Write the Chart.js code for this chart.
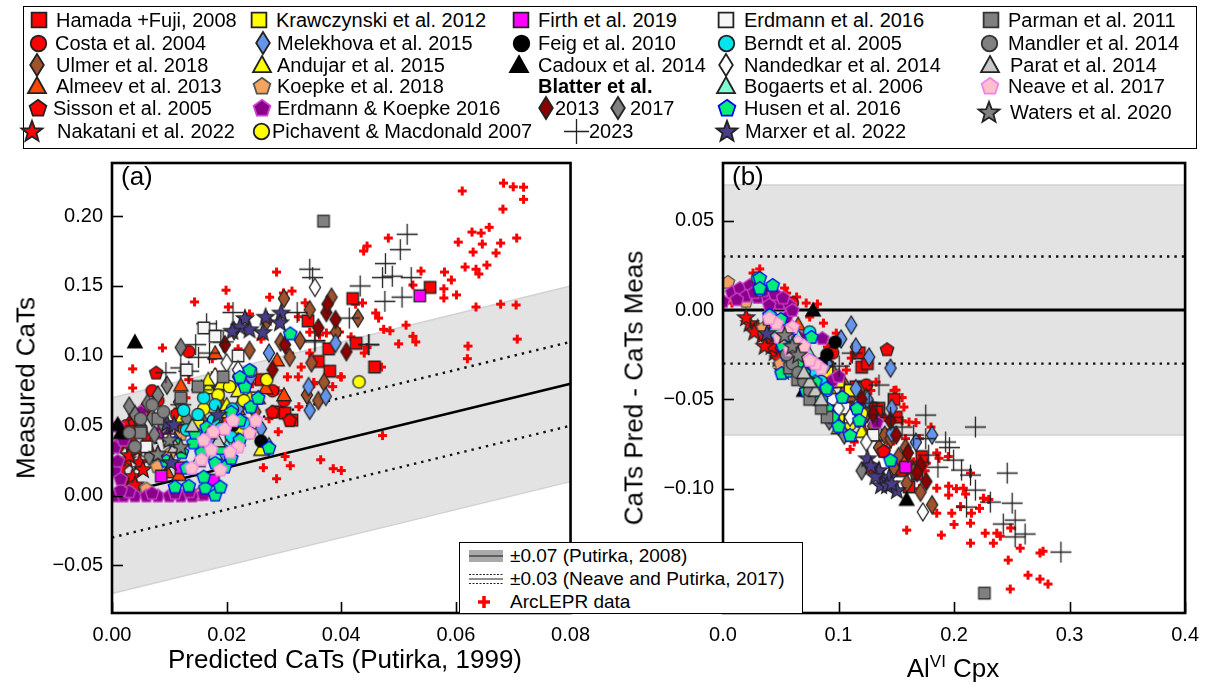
<!DOCTYPE html>
<html lang="en">
<head>
<meta charset="utf-8">
<title>CaTs comparison</title>
<script src="https://cdn.jsdelivr.net/npm/chart.js@4.4.0/dist/chart.umd.min.js"></script>
<style>
  body { margin: 0; background: #fff; font-family: "Liberation Sans", Arial, sans-serif; color: #000; }
  #wrap { position: relative; width: 1209px; height: 691px; overflow: hidden; }
  canvas.chart { position: absolute; }
  #legend { position: absolute; left: 23px; top: 6px; width: 1172px; height: 141px; border: 1.5px solid #000; }
  .lg-img { position: absolute; }
  .lg-txt { position: absolute; font-size: 20px; line-height: 22px; white-space: nowrap; }
  .axt { position: absolute; font-size: 26px; white-space: nowrap; transform: translate(-50%, -50%); }
  .rot { transform: translate(-50%, -50%) rotate(-90deg); }
  .panel { position: absolute; font-size: 26px; }
  #small { position: absolute; left: 459px; top: 542px; width: 342px; height: 70px; border: 1.2px solid #000; background: #fff; z-index: 5; }
  #small .t { position: absolute; left: 50px; font-size: 19px; line-height: 22px; white-space: nowrap; }
</style>
</head>
<body>
<div id="wrap">
  <div id="legend"></div>
  <canvas id="chartA" class="chart" width="600" height="536" style="left:0;top:155px"></canvas>
  <canvas id="chartB" class="chart" width="589" height="536" style="left:620px;top:155px"></canvas>
  <div class="panel" style="left:121px;top:161px">(a)</div>
  <div class="panel" style="left:732px;top:161px">(b)</div>
  <div class="axt rot" style="left:26px;top:388px">Measured CaTs</div>
  <div class="axt rot" style="left:634px;top:388px">CaTs Pred - CaTs Meas</div>
  <div class="axt" style="left:345px;top:659px">Predicted CaTs (Putirka, 1999)</div>
  <div class="axt" style="left:953px;top:668px">Al<sup style="font-size:17px">VI</sup> Cpx</div>
  <div id="small">
    <canvas id="h1" width="40" height="20" style="position:absolute;left:7px;top:3px"></canvas>
    <div class="t" style="top:2px">±0.07 (Putirka, 2008)</div>
    <canvas id="h2" width="40" height="20" style="position:absolute;left:7px;top:26px"></canvas>
    <div class="t" style="top:25px">±0.03 (Neave and Putirka, 2017)</div>
    <canvas id="h3" width="40" height="20" style="position:absolute;left:7px;top:49px"></canvas>
    <div class="t" style="top:48px">ArcLEPR data</div>
  </div>
</div>
<script>
// ---- data: [predicted CaTs, measured CaTs] for (a), [AlVI, pred - meas] for (b)
const arclA = [[0.0611,0.218],[0.0683,0.2236],[0.070,0.221],[0.0718,0.2207],[0.0718,0.212],[0.0682,0.205],[0.0628,0.1886],[0.0644,0.1879],[0.0658,0.192],[0.0604,0.1814],[0.0706,0.1843],[0.063,0.1743],[0.0646,0.18],[0.0678,0.1807],[0.067,0.1736],[0.0616,0.1636],[0.0635,0.162],[0.064,0.1586],[0.0654,0.165],[0.0592,0.1543],[0.0579,0.148],[0.0579,0.1414],[0.0601,0.1436],[0.0539,0.1607],[0.0525,0.1507],[0.0482,0.1843],[0.0445,0.1786],[0.0439,0.175],[0.0635,0.135],[0.0678,0.137],[0.0705,0.1364],[0.0513,0.122],[0.05,0.1086],[0.053,0.11],[0.0621,0.107],[0.062,0.098],[0.0707,0.112],[0.046,0.1307],[0.0465,0.127],[0.0474,0.119],[0.0485,0.118],[0.0437,0.1379],[0.0425,0.137],[0.047,0.092],[0.0399,0.085],[0.0445,0.106],[0.044,0.102],[0.0345,0.102],[0.0352,0.081],[0.0417,0.1136],[0.0397,0.1171],[0.0374,0.1164],[0.0337,0.138],[0.0287,0.16],[0.0199,0.147],[0.0144,0.1386],[0.0275,0.142],[0.0299,0.145],[0.0314,0.1464],[0.0203,0.135],[0.0088,0.1057],[0.0036,0.0907],[0.0036,0.077],[0.0345,0.117],[0.0362,0.115],[0.031,0.102],[0.0306,0.085],[0.0325,0.085],[0.04,0.085],[0.0385,0.078],[0.0134,0.083],[0.0155,0.075],[0.0245,0.08],[0.029,0.075],[0.0472,0.043],[0.0302,0.028],[0.0311,0.0214],[0.0264,0.02],[0.0287,0.0121],[0.0364,0.0257],[0.0386,0.0193],[0.04,0.018],[0.029,0.0457],[0.0237,0.0457],[0.0274,0.055],[0.0129,0.07],[0.0326,0.0636],[0.0352,0.08],[0.0163,0.0007],[0.0175,0.098],[0.022,0.105],[0.026,0.112],[0.011,0.06],[0.006,0.04],[0.018,0.088],[0.033,0.092],[0.0525,0.114],[0.058,0.16],[0.024,0.13],[0.0325,0.128]];
const arclB = [[0.0318,0.023],[0.026,0.0207],[0.0533,0.0123],[0.055,0.0095],[0.0637,0.0073],[0.072,0.0039],[0.0817,0.0034],[0.075,-0.0039],[0.0869,-0.0073],[0.098,-0.0129],[0.0903,-0.0207],[0.1136,-0.0235],[0.111,-0.0269],[0.1067,-0.0336],[0.1325,-0.0403],[0.1497,-0.0448],[0.128,-0.045],[0.0077,0.0039],[0.1566,-0.0543],[0.161,-0.0627],[0.167,-0.063],[0.155,-0.062],[0.18,-0.0655],[0.1136,-0.0739],[0.11,-0.078],[0.158,-0.072],[0.17,-0.072],[0.185,-0.08],[0.187,-0.083],[0.195,-0.082],[0.176,-0.0857],[0.185,-0.0997],[0.1953,-0.1036],[0.1953,-0.0986],[0.202,-0.1],[0.2142,-0.0913],[0.208,-0.0997],[0.21,-0.103],[0.2056,-0.11],[0.185,-0.1137],[0.198,-0.1137],[0.215,-0.1137],[0.222,-0.111],[0.2254,-0.1053],[0.23,-0.106],[0.2142,-0.1193],[0.159,-0.1232],[0.189,-0.126],[0.2142,-0.1305],[0.227,-0.1249],[0.234,-0.1305],[0.237,-0.1249],[0.24,-0.1266],[0.249,-0.122],[0.2572,-0.1333],[0.2469,-0.14],[0.2744,-0.136],[0.277,-0.135],[0.264,-0.1484],[0.2744,-0.1506],[0.2813,-0.1534],[0.2486,-0.1562],[0.148,-0.045],[0.155,-0.049],[0.14,-0.06],[0.12,-0.055],[0.1,-0.04],[0.09,-0.035],[0.065,-0.01],[0.045,0.005],[0.06,0.0],[0.13,-0.07],[0.145,-0.075],[0.165,-0.085],[0.175,-0.09],[0.138,-0.08],[0.16,-0.09],[0.17,-0.1],[0.2,-0.12],[0.12,-0.065]];

const hamadaA = [[0.0555,0.149],[0.042,0.141],[0.0342,0.125],[0.0426,0.109],[0.0378,0.105],[0.036,0.096],[0.038,0.089],[0.0458,0.092],[0.0288,0.06],[0.0302,0.059],[0.0314,0.054],[0.0185,0.074],[0.026,0.083],[0.023,0.066]];
const hamadaB = [[0.168,-0.092],[0.161,-0.099],[0.155,-0.09],[0.172,-0.082],[0.142,-0.07],[0.15,-0.06],[0.135,-0.055],[0.148,-0.05],[0.12,-0.032],[0.125,-0.03],[0.118,-0.024],[0.128,-0.055],[0.133,-0.057],[0.115,-0.043]];
const costaA = [[0.0134,0.103],[0.007,0.075],[0.0036,0.053],[0.006,0.063],[0.0113,0.058],[0.002,0.045],[0.003,0.04],[0.004,0.058],[0.0025,0.05],[0.008,0.068],[0.001,0.035],[0.005,0.048],[0.028,0.075],[0.03,0.068]];
const costaB = [[0.095,-0.024],[0.0645,-0.032],[0.06,0.004],[0.124,-0.042],[0.109,-0.056],[0.139,-0.079],[0.128,-0.088],[0.085,-0.045],[0.078,-0.038],[0.09,-0.05],[0.072,-0.03],[0.1,-0.058],[0.115,-0.06],[0.068,-0.036]];
const ulmerA = [[0.03,0.141],[0.0383,0.142],[0.0345,0.133],[0.0429,0.127],[0.0391,0.117],[0.0328,0.111],[0.0294,0.11],[0.0213,0.118],[0.0348,0.095],[0.037,0.081],[0.031,0.099],[0.034,0.072],[0.036,0.068],[0.025,0.06],[0.019,0.065],[0.016,0.052],[0.022,0.085],[0.027,0.125],[0.024,0.104]];
const ulmerB = [[0.181,-0.109],[0.171,-0.102],[0.159,-0.097],[0.148,-0.088],[0.135,-0.077],[0.158,-0.077],[0.125,-0.058],[0.118,-0.045],[0.14,-0.07],[0.11,-0.05],[0.13,-0.065],[0.105,-0.042],[0.152,-0.082],[0.145,-0.072],[0.1,-0.038],[0.095,-0.035],[0.122,-0.06],[0.165,-0.09],[0.112,-0.056]];
const almeevA = [[0.018,0.102],[0.012,0.079],[0.0288,0.097],[0.0268,0.077],[0.03,0.072],[0.0255,0.07],[0.0096,0.017],[0.0117,0.015],[0.015,0.04],[0.02,0.055],[0.022,0.062],[0.008,0.03]];
const almeevB = [[0.159,-0.083],[0.124,-0.048],[0.121,-0.067],[0.11,-0.055],[0.098,-0.06],[0.13,-0.07],[0.105,-0.045],[0.09,-0.04],[0.06,-0.01],[0.065,-0.008],[0.085,-0.03],[0.115,-0.062]];
const sissonA = [[0.0077,0.088],[0.031,0.054],[0.028,0.06],[0.006,0.06],[0.004,0.052],[0.012,0.047],[0.02,0.048]];
const sissonB = [[0.142,-0.022],[0.139,-0.079],[0.095,-0.04],[0.08,-0.045],[0.07,-0.03],[0.085,-0.05],[0.09,-0.03]];
const nakataniA = [[0.0026,0.026],[0.0048,0.024],[0.002,0.011],[0.0036,0.014],[0.0054,0.019],[0.003,0.029],[0.006,0.042],[0.0043,0.034],[0.0015,0.02],[0.004,0.008],[0.007,0.03],[0.002,0.038]];
const nakataniB = [[0.023,-0.0073],[0.03,-0.01],[0.039,-0.017],[0.0447,-0.0235],[0.0507,-0.031],[0.034,-0.014],[0.042,-0.02],[0.027,-0.012],[0.048,-0.027],[0.02,-0.004],[0.036,-0.02],[0.052,-0.034]];
const krawA = [[0.015,0.05],[0.02,0.06],[0.025,0.07]];
const krawB = [[0.09,-0.035],[0.1,-0.04],[0.11,-0.045]];
const melekA = [[0.0343,0.078],[0.0345,0.061],[0.0373,0.071],[0.026,0.048],[0.0274,0.035],[0.019,0.028],[0.0208,0.046],[0.0274,0.102],[0.0242,0.085],[0.039,0.109],[0.022,0.062],[0.017,0.04]];
const melekB = [[0.111,-0.0084],[0.1023,-0.0162],[0.115,-0.0207],[0.1265,-0.0263],[0.145,-0.0325],[0.146,-0.055],[0.181,-0.07],[0.167,-0.074],[0.146,-0.069],[0.115,-0.044],[0.09,-0.03],[0.125,-0.05]];
const andujarA = [[0.026,0.033],[0.0168,0.077],[0.0168,0.083],[0.019,0.08],[0.022,0.075],[0.024,0.07],[0.02,0.065],[0.012,0.055]];
const andujarB = [[0.1,-0.066],[0.105,-0.062],[0.095,-0.055],[0.11,-0.07],[0.09,-0.05],[0.085,-0.045],[0.12,-0.068],[0.075,-0.04]];
const koepkeA = [[0.0151,0.001],[0.0079,0.021],[0.012,0.044],[0.01,0.03],[0.006,0.005]];
const koepkeB = [[0.0043,0.0157],[0.035,-0.01],[0.06,-0.02],[0.05,-0.03],[0.02,0.005]];
const erdKoA = [[0.0005,0.0],[0.002,0.0],[0.004,0.0],[0.006,0.0],[0.008,0.0],[0.01,0.0],[0.012,0.0],[0.014,0.0],[0.003,0.003],[0.007,0.002],[0.011,0.002],[0.0015,0.004],[0.0005,0.018],[0.001,0.025],[0.0005,0.035],[0.002,0.04],[0.0015,0.012],[0.005,0.06],[0.008,0.045],[0.001,0.05],[0.0135,0.003],[0.016,0.001],[0.0094,0.045]];
const erdKoB = [[0.0077,0.01],[0.0146,0.0123],[0.0232,0.014],[0.03,0.0073],[0.039,0.0067],[0.049,0.0039],[0.0576,0.0028],[0.0662,-0.0151],[0.086,-0.0157],[0.0688,-0.0196],[0.0946,-0.0392],[0.1,-0.037],[0.055,-0.0039],[0.133,-0.0627],[0.02,0.008],[0.035,0.011],[0.045,0.009],[0.027,0.01],[0.012,0.006],[0.04,0.003],[0.06,0.0],[0.052,0.007],[0.0,0.005]];
const pichA = [[0.0431,0.0814],[0.0223,0.047],[0.0242,0.089],[0.027,0.083],[0.0185,0.072],[0.0205,0.078],[0.023,0.068],[0.016,0.062]];
const pichB = [[0.1,-0.06],[0.105,-0.068],[0.095,-0.05],[0.12,-0.058],[0.085,-0.042],[0.092,-0.047],[0.11,-0.064],[0.08,-0.04]];
const firthA = [[0.0537,0.143],[0.0086,0.014],[0.0177,0.011],[0.012,0.02]];
const firthB = [[0.158,-0.088],[0.04,-0.005],[0.055,-0.01],[0.045,-0.008]];
const feigA = [[0.026,0.039],[0.024,0.045],[0.021,0.05]];
const feigB = [[0.097,-0.018],[0.09,-0.025],[0.085,-0.03]];
const cadouxA = [[0.004,0.11],[0.001,0.051],[0.0015,0.045]];
const cadouxB = [[0.159,-0.106],[0.078,0.0],[0.07,-0.045]];
const bl2013A = [[0.0374,0.131],[0.039,0.126],[0.0302,0.108],[0.0409,0.103],[0.0376,0.137],[0.0197,0.108],[0.036,0.12],[0.028,0.09]];
const bl2013B = [[0.145,-0.062],[0.171,-0.087],[0.176,-0.096],[0.168,-0.091],[0.16,-0.08],[0.13,-0.058],[0.15,-0.07],[0.12,-0.05]];
const bl2017A = [[0.012,0.106],[0.0096,0.079],[0.0051,0.049],[0.007,0.056],[0.0062,0.066],[0.0117,0.067],[0.0074,0.0436],[0.004,0.058],[0.0065,0.028],[0.009,0.05],[0.003,0.064],[0.011,0.039],[0.008,0.072],[0.013,0.055]];
const bl2017B = [[0.08,-0.04],[0.085,-0.05],[0.09,-0.055],[0.075,-0.035],[0.095,-0.06],[0.1,-0.065],[0.07,-0.03],[0.088,-0.045],[0.078,-0.048],[0.092,-0.062],[0.065,-0.028],[0.105,-0.07],[0.12,-0.09],[0.06,-0.025]];
const bl2023A = [[0.0515,0.187],[0.0503,0.176],[0.0477,0.166],[0.0472,0.156],[0.0489,0.157],[0.0522,0.156],[0.0433,0.15],[0.0476,0.139],[0.0506,0.142],[0.0414,0.127],[0.0448,0.108],[0.0354,0.111],[0.0345,0.162],[0.035,0.156],[0.0211,0.131],[0.0165,0.123],[0.0182,0.118],[0.0194,0.11],[0.0146,0.108],[0.0151,0.099],[0.012,0.0914],[0.0094,0.088],[0.0134,0.089],[0.017,0.102],[0.0156,0.0757],[0.0323,0.131],[0.0354,0.11],[0.0448,0.108],[0.012,0.065],[0.004,0.05]];
const bl2023B = [[0.1755,-0.0588],[0.2185,-0.0655],[0.1927,-0.0739],[0.196,-0.077],[0.155,-0.0655],[0.178,-0.0812],[0.1996,-0.084],[0.2065,-0.0896],[0.2142,-0.0924],[0.2185,-0.1008],[0.2108,-0.1103],[0.2314,-0.1075],[0.246,-0.0913],[0.2503,-0.1081],[0.2529,-0.1176],[0.2426,-0.1198],[0.2615,-0.1254],[0.2529,-0.127],[0.2925,-0.1355],[0.1333,-0.0588],[0.1265,-0.0521],[0.135,-0.042],[0.1755,-0.072],[0.1118,-0.0241],[0.1006,-0.0314],[0.186,-0.088],[0.165,-0.07],[0.145,-0.06]];
const erd16A = [[0.016,0.12],[0.018,0.114],[0.022,0.1],[0.013,0.09],[0.01,0.04],[0.006,0.035]];
const erd16B = [[0.11,-0.06],[0.105,-0.055],[0.095,-0.05],[0.13,-0.07],[0.06,-0.02],[0.07,-0.025]];
const berndtA = [[0.0125,0.061],[0.0177,0.054],[0.0208,0.042],[0.019,0.048],[0.015,0.058],[0.021,0.062],[0.016,0.07],[0.013,0.047],[0.023,0.052],[0.018,0.065]];
const berndtB = [[0.0301,0.0179],[0.032,0.0112],[0.075,-0.0123],[0.07,-0.02],[0.065,-0.03],[0.08,-0.035],[0.085,-0.04],[0.06,-0.018],[0.09,-0.045],[0.055,-0.025]];
const nandA = [[0.0354,0.149],[0.02,0.095],[0.018,0.085],[0.022,0.09]];
const nandB = [[0.173,-0.113],[0.124,-0.074],[0.11,-0.06],[0.1,-0.055]];
const bogA = [[0.018,0.03],[0.02,0.035],[0.015,0.025],[0.022,0.04]];
const bogB = [[0.07,-0.02],[0.075,-0.025],[0.065,-0.015],[0.08,-0.03]];
const husenA = [[0.011,0.038],[0.0122,0.031],[0.0142,0.038],[0.0156,0.031],[0.013,0.02],[0.011,0.0064],[0.0134,0.0071],[0.0163,0.0057],[0.018,0.0007],[0.0189,0.0064],[0.016,0.0136],[0.018,0.0236],[0.0197,0.0207],[0.0208,0.027],[0.0223,0.04],[0.0274,0.0343],[0.0232,0.078],[0.0242,0.0636],[0.0208,0.06],[0.0223,0.054],[0.0165,0.049],[0.0311,0.116],[0.024,0.09],[0.0223,0.085],[0.0145,0.045],[0.019,0.034],[0.0095,0.025],[0.0255,0.07]];
const husenB = [[0.0318,0.0179],[0.0318,0.0123],[0.043,0.014],[0.0404,-0.0028],[0.0516,-0.0196],[0.0766,-0.0151],[0.0507,-0.0353],[0.0895,-0.0437],[0.1032,-0.0487],[0.145,-0.084],[0.116,-0.055],[0.118,-0.0616],[0.06,-0.02],[0.065,-0.03],[0.07,-0.035],[0.055,-0.025],[0.08,-0.04],[0.085,-0.05],[0.09,-0.055],[0.095,-0.06],[0.06,-0.01],[0.05,-0.005],[0.045,-0.012],[0.075,-0.028],[0.1,-0.065],[0.11,-0.07],[0.072,-0.045],[0.058,-0.034]];
const marxerA = [[0.0232,0.127],[0.0268,0.128],[0.0295,0.131],[0.0293,0.124],[0.0263,0.117],[0.024,0.119],[0.0223,0.121],[0.021,0.118],[0.0096,0.052],[0.0108,0.051],[0.0185,0.058],[0.0103,0.024]];
const marxerB = [[0.125,-0.083],[0.135,-0.0896],[0.139,-0.095],[0.1437,-0.0935],[0.1505,-0.1008],[0.1368,-0.098],[0.142,-0.098],[0.132,-0.093],[0.0722,-0.039],[0.038,-0.0129],[0.128,-0.087],[0.146,-0.097]];
const parmanA = [[0.0369,0.1964],[0.0194,0.085],[0.012,0.07],[0.015,0.078],[0.008,0.055],[0.005,0.045]];
const parmanB = [[0.2263,-0.1585],[0.0576,-0.0325],[0.0645,-0.039],[0.09,-0.06],[0.085,-0.055],[0.075,-0.05]];
const mandlerA = [[0.003,0.045],[0.005,0.055],[0.007,0.065],[0.009,0.06],[0.004,0.035]];
const mandlerB = [[0.06,-0.03],[0.07,-0.04],[0.075,-0.045],[0.065,-0.035],[0.055,-0.025]];
const paratA = [[0.0185,0.039],[0.017,0.045],[0.014,0.05],[0.011,0.035]];
const paratB = [[0.08,-0.045],[0.085,-0.05],[0.075,-0.04],[0.07,-0.035]];
const neaveA = [[0.0177,0.046],[0.0197,0.048],[0.0211,0.054],[0.022,0.035],[0.0206,0.0314],[0.0173,0.033],[0.0156,0.026],[0.0139,0.02],[0.0189,0.0186],[0.0251,0.054],[0.024,0.045],[0.016,0.04]];
const neaveB = [[0.0464,-0.0073],[0.04,-0.0045],[0.0602,-0.0095],[0.0688,-0.024],[0.0851,-0.0325],[0.08,-0.03],[0.055,-0.012],[0.049,-0.015],[0.065,-0.018],[0.075,-0.028],[0.07,-0.02],[0.058,-0.022]];
const watersA = [[0.008,0.03],[0.01,0.04],[0.012,0.035]];
const watersB = [[0.0533,-0.014],[0.06,-0.02],[0.065,-0.025]];

const ticksAx = [0, 0.02, 0.04, 0.06, 0.08];
const ticksAy = [-0.05, 0, 0.05, 0.10, 0.15, 0.20];
const ticksBx = [0, 0.1, 0.2, 0.3, 0.4];
const ticksBy = [-0.10, -0.05, 0, 0.05];

// marker sprites
function marker(shape, fill, stroke, s, lw) {
  const W = Math.ceil(s + 4);
  const c = document.createElement('canvas');
  c.width = W; c.height = W;
  const g = c.getContext('2d');
  const cx = W / 2, cy = W / 2, r = s / 2;
  g.beginPath();
  if (shape === 'square') {
    g.rect(cx - r * 0.82, cy - r * 0.82, r * 1.64, r * 1.64);
  } else if (shape === 'circle') {
    g.arc(cx, cy, r * 0.82, 0, Math.PI * 2);
  } else if (shape === 'diamond') {
    g.moveTo(cx, cy - r); g.lineTo(cx + r * 0.62, cy); g.lineTo(cx, cy + r); g.lineTo(cx - r * 0.62, cy); g.closePath();
  } else if (shape === 'triangle') {
    g.moveTo(cx, cy - r * 0.9); g.lineTo(cx + r * 0.9, cy + r * 0.72); g.lineTo(cx - r * 0.9, cy + r * 0.72); g.closePath();
  } else if (shape === 'pentagon') {
    for (let i = 0; i < 5; i++) {
      const a = -Math.PI / 2 + i * 2 * Math.PI / 5;
      g.lineTo(cx + r * 0.88 * Math.cos(a), cy + 0.06 * r + r * 0.88 * Math.sin(a));
    }
    g.closePath();
  } else if (shape === 'star') {
    for (let i = 0; i < 10; i++) {
      const a = -Math.PI / 2 + i * Math.PI / 5;
      const rr = i % 2 ? r * 0.42 : r;
      g.lineTo(cx + rr * Math.cos(a), cy + 0.08 * r + rr * Math.sin(a));
    }
    g.closePath();
  } else if (shape === 'plus') {
    g.moveTo(cx - r, cy); g.lineTo(cx + r, cy); g.moveTo(cx, cy - r); g.lineTo(cx, cy + r);
  }
  if (fill) { g.fillStyle = fill; g.fill(); }
  g.lineWidth = lw; g.strokeStyle = stroke; g.lineJoin = 'miter'; g.stroke();
  return c;
}

const series = [
  { label: 'Hamada +Fuji, 2008', a: hamadaA, b: hamadaB, shape: 'square', fill: '#ff0000', stroke: '#222', size: 14 },
  { label: 'Costa et al. 2004', a: costaA, b: costaB, shape: 'circle', fill: '#ff0000', stroke: '#222', size: 15 },
  { label: 'Ulmer et al. 2018', a: ulmerA, b: ulmerB, shape: 'diamond', fill: '#a0522d', stroke: '#222', size: 18 },
  { label: 'Almeev et al. 2013', a: almeevA, b: almeevB, shape: 'triangle', fill: '#ff4500', stroke: '#222', size: 16 },
  { label: 'Sisson et al. 2005', a: sissonA, b: sissonB, shape: 'pentagon', fill: '#ff0000', stroke: '#222', size: 16 },
  { label: 'Nakatani et al. 2022', a: nakataniA, b: nakataniB, shape: 'star', fill: '#ff0000', stroke: '#222', size: 18 },
  { label: 'Krawczynski et al. 2012', a: krawA, b: krawB, shape: 'square', fill: '#ffff00', stroke: '#222', size: 14 },
  { label: 'Melekhova et al. 2015', a: melekA, b: melekB, shape: 'diamond', fill: '#6495ed', stroke: '#222', size: 18 },
  { label: 'Andujar et al. 2015', a: andujarA, b: andujarB, shape: 'triangle', fill: '#ffff00', stroke: '#222', size: 16 },
  { label: 'Koepke et al. 2018', a: koepkeA, b: koepkeB, shape: 'pentagon', fill: '#f4a460', stroke: '#555', size: 16 },
  { label: 'Erdmann & Koepke 2016', a: erdKoA, b: erdKoB, shape: 'pentagon', fill: '#8b008b', stroke: '#cc44cc', size: 16 },
  { label: 'Pichavent & Macdonald 2007', a: pichA, b: pichB, shape: 'circle', fill: '#ffff00', stroke: '#222', size: 15 },
  { label: 'Firth et al. 2019', a: firthA, b: firthB, shape: 'square', fill: '#ff00ff', stroke: '#222', size: 14 },
  { label: 'Feig et al. 2010', a: feigA, b: feigB, shape: 'circle', fill: '#000000', stroke: '#000', size: 15 },
  { label: 'Cadoux et al. 2014', a: cadouxA, b: cadouxB, shape: 'triangle', fill: '#000000', stroke: '#000', size: 16 },
  { label: '2013', a: bl2013A, b: bl2013B, shape: 'diamond', fill: '#8b0000', stroke: '#222', size: 18 },
  { label: '2017', a: bl2017A, b: bl2017B, shape: 'diamond', fill: '#808080', stroke: '#222', size: 18 },
  { label: '2023', a: bl2023A, b: bl2023B, shape: 'plus', fill: null, stroke: '#222', size: 21, lw: 1.3 },
  { label: 'Erdmann et al. 2016', a: erd16A, b: erd16B, shape: 'square', fill: '#f5f5f5', stroke: '#222', size: 14 },
  { label: 'Berndt et al. 2005', a: berndtA, b: berndtB, shape: 'circle', fill: '#00e5ee', stroke: '#222', size: 15 },
  { label: 'Nandedkar et al. 2014', a: nandA, b: nandB, shape: 'diamond', fill: '#ffffff', stroke: '#222', size: 18 },
  { label: 'Bogaerts et al. 2006', a: bogA, b: bogB, shape: 'triangle', fill: '#7fffd4', stroke: '#222', size: 16 },
  { label: 'Husen et al. 2016', a: husenA, b: husenB, shape: 'pentagon', fill: '#00ee76', stroke: '#0000ff', size: 16 },
  { label: 'Marxer et al. 2022', a: marxerA, b: marxerB, shape: 'star', fill: '#483d8b', stroke: '#222', size: 18 },
  { label: 'Parman et al. 2011', a: parmanA, b: parmanB, shape: 'square', fill: '#808080', stroke: '#333', size: 14 },
  { label: 'Mandler et al. 2014', a: mandlerA, b: mandlerB, shape: 'circle', fill: '#808080', stroke: '#333', size: 15 },
  { label: 'Parat et al. 2014', a: paratA, b: paratB, shape: 'triangle', fill: '#c8c8c8', stroke: '#222', size: 16 },
  { label: 'Neave et al. 2017', a: neaveA, b: neaveB, shape: 'pentagon', fill: '#ffc0cb', stroke: '#ee82ee', size: 16 },
  { label: 'Waters et al. 2020', a: watersA, b: watersB, shape: 'star', fill: '#808080', stroke: '#222', size: 18 }
];
const arcl = { label: 'ArcLEPR data', a: arclA, b: arclB, shape: 'plus', fill: null, stroke: '#ff0000', size: 9, lw: 3 };

// legend placement: [marker centre x, text x, row centre y]
const legendPos = [
  [39, 56, 20], [38, 55, 43], [37, 56, 65], [37, 56, 86], [38, 53, 108], [32, 57, 131],
  [259, 276, 20], [263, 277, 43], [262, 277, 65], [262, 277, 86], [262, 277, 108], [261, 272, 131],
  [521, 538, 20], [521, 538, 43], [519, 538, 65],
  [546, 555, 108], [618, 630, 108], [576, 589, 131],
  [726, 744, 20], [726, 744, 43], [726, 744, 65], [726, 744, 86], [727, 744, 108], [727, 745, 131],
  [991, 1008, 20], [989, 1008, 43], [990, 1010, 65], [990, 1008, 86], [989, 1010, 112]
];

const wrap = document.getElementById('wrap');
series.forEach((s, i) => {
  const [mx, tx, my] = legendPos[i];
  const sprite = marker(s.shape, s.fill, s.stroke, s.size + 4, s.lw || 1.8);
  const img = document.createElement('img');
  img.className = 'lg-img';
  img.src = sprite.toDataURL();
  img.style.left = (mx - sprite.width / 2) + 'px';
  img.style.top = (my - sprite.height / 2) + 'px';
  wrap.appendChild(img);
  const t = document.createElement('div');
  t.className = 'lg-txt';
  t.textContent = s.label;
  t.style.left = tx + 'px';
  t.style.top = (my - 11) + 'px';
  wrap.appendChild(t);
});
const bl = document.createElement('div');
bl.className = 'lg-txt';
bl.style.cssText = 'left:538px;top:75px;font-weight:bold';
bl.textContent = 'Blatter et al.';
wrap.appendChild(bl);

// small legend handles
(function () {
  let g = document.getElementById('h1').getContext('2d');
  g.fillStyle = '#aaaaaa'; g.fillRect(2, 4, 34, 12);
  g.strokeStyle = '#444'; g.lineWidth = 1.5; g.beginPath(); g.moveTo(2, 10); g.lineTo(36, 10); g.stroke();
  g = document.getElementById('h2').getContext('2d');
  g.strokeStyle = '#222'; g.lineWidth = 1;
  g.setLineDash([2, 1.5]);
  g.beginPath(); g.moveTo(2, 5.5); g.lineTo(36, 5.5); g.moveTo(2, 14.5); g.lineTo(36, 14.5); g.stroke();
  g.setLineDash([]);
  g.beginPath(); g.moveTo(2, 10); g.lineTo(36, 10); g.stroke();
  g = document.getElementById('h3').getContext('2d');
  g.drawImage(marker('plus', null, '#ff0000', 12, 3.5), 9, 2);
})();

// shaded band, reference lines, frame and inward ticks
const guides = {
  id: 'guides',
  beforeDatasetsDraw(chart, args, opts) {
    const { ctx, chartArea: ca, scales: { x, y } } = chart;
    const k = opts.slope;
    const px = v => x.getPixelForValue(v);
    const py = v => y.getPixelForValue(v);
    const x0 = x.min, x1 = x.max;
    ctx.save();
    ctx.beginPath(); ctx.rect(ca.left, ca.top, ca.right - ca.left, ca.bottom - ca.top); ctx.clip();
    ctx.beginPath();
    ctx.moveTo(px(x0), py(k * x0 + 0.07)); ctx.lineTo(px(x1), py(k * x1 + 0.07));
    ctx.lineTo(px(x1), py(k * x1 - 0.07)); ctx.lineTo(px(x0), py(k * x0 - 0.07)); ctx.closePath();
    ctx.fillStyle = '#e3e3e3'; ctx.fill();
    ctx.strokeStyle = '#d2d2d2'; ctx.lineWidth = 1.5;
    [0.07, -0.07].forEach(o => { ctx.beginPath(); ctx.moveTo(px(x0), py(k * x0 + o)); ctx.lineTo(px(x1), py(k * x1 + o)); ctx.stroke(); });
    ctx.strokeStyle = '#111'; ctx.lineWidth = 2.4; ctx.setLineDash([2.4, 5]);
    [0.03, -0.03].forEach(o => { ctx.beginPath(); ctx.moveTo(px(x0), py(k * x0 + o)); ctx.lineTo(px(x1), py(k * x1 + o)); ctx.stroke(); });
    ctx.setLineDash([]); ctx.strokeStyle = '#000'; ctx.lineWidth = opts.main;
    ctx.beginPath(); ctx.moveTo(px(x0), py(k * x0)); ctx.lineTo(px(x1), py(k * x1)); ctx.stroke();
    ctx.restore();
  },
  afterDraw(chart) {
    const { ctx, chartArea: ca, scales: { x, y } } = chart;
    ctx.save();
    ctx.strokeStyle = '#000'; ctx.lineWidth = 1.6;
    x.ticks.forEach(t => { const p = Math.round(x.getPixelForValue(t.value)) + 0.5; ctx.beginPath(); ctx.moveTo(p, ca.bottom); ctx.lineTo(p, ca.bottom - 11); ctx.stroke(); });
    y.ticks.forEach(t => { const p = Math.round(y.getPixelForValue(t.value)) + 0.5; ctx.beginPath(); ctx.moveTo(ca.left, p); ctx.lineTo(ca.left + 11, p); ctx.stroke(); });
    ctx.lineWidth = 2.6;
    ctx.strokeRect(ca.left, ca.top, ca.right - ca.left, ca.bottom - ca.top);
    ctx.restore();
  }
};

function makeDatasets(key) {
  const all = [arcl].concat(series);
  return all.map((s, i) => ({
    label: s.label,
    data: s[key].map(p => ({ x: p[0], y: p[1] })),
    pointStyle: marker(s.shape, s.fill, s.stroke, s.size, s.lw || 1.3),
    pointRadius: s.size / 2,
    order: -i
  }));
}

function fmt(d) { return v => v.toFixed(d).replace('-', '\u2212'); }

// plot area wanted on the page: top 163, bottom 613
const PLOT_TOP = 163, PLOT_BOTTOM = 613;

function makeChart(id, key, xt, yt, xr, yr, dx, dy, yWidth, plotRight, slope, mainW) {
  const canvas = document.getElementById(id);
  const box = { xh: 78 };
  const chart = new Chart(canvas, {
    type: 'scatter',
    data: { datasets: makeDatasets(key) },
    plugins: [guides],
    options: {
      responsive: false,
      animation: false,
      events: [],
      layout: { padding: { top: 0, right: 0, left: 0, bottom: 0 } },
      plugins: { legend: { display: false }, tooltip: { enabled: false }, guides: { slope: slope, main: mainW } },
      scales: {
        x: {
          type: 'linear', min: xr[0], max: xr[1],
          afterBuildTicks: s => { s.ticks = xt.map(v => ({ value: v })); },
          afterFit: s => { s.height = box.xh; },
          grid: { display: false, drawTicks: false }, border: { display: false },
          ticks: { color: '#000', padding: 10, font: { family: 'Liberation Sans', size: 20 }, callback: fmt(dx), maxRotation: 0, autoSkip: false }
        },
        y: {
          type: 'linear', min: yr[0], max: yr[1],
          afterBuildTicks: s => { s.ticks = yt.map(v => ({ value: v })); },
          afterFit: s => { s.width = yWidth; },
          grid: { display: false, drawTicks: false }, border: { display: false },
          ticks: { color: '#000', padding: 9, font: { family: 'Liberation Sans', size: 20 }, callback: fmt(dy), autoSkip: false }
        }
      }
    }
  });
  // line the plot area up with the reference frame
  const ca = chart.chartArea;
  const topOff = ca.top;
  canvas.style.top = (PLOT_TOP - topOff) + 'px';
  box.xh = canvas.height - (PLOT_BOTTOM - PLOT_TOP) - topOff;
  chart.options.layout.padding.right = Math.max(0, ca.right - plotRight);
  chart.update();
  return chart;
}

makeChart('chartA', 'a', ticksAx, ticksAy, [0, 0.08], [-0.084, 0.238], 2, 2, 112, 578, 1, 2.5);
makeChart('chartB', 'b', ticksBx, ticksBy, [0, 0.4], [-0.1696, 0.0823], 1, 2, 103, 568, 0, 3);
</script>
</body>
</html>
